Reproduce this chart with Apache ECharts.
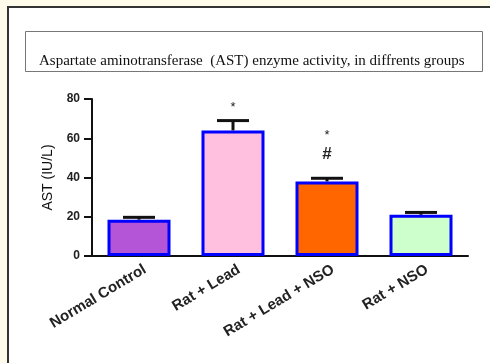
<!DOCTYPE html>
<html><head><meta charset="utf-8">
<script src="https://cdn.jsdelivr.net/npm/echarts@6/dist/echarts.min.js"></script>
<style>html,body{margin:0;padding:0;background:#fffbea;}#c{width:490px;height:363px;}</style>
</head><body><div id="c"></div>
<script>
const categories = ['Normal Control', 'Rat + Lead', 'Rat + Lead + NSO', 'Rat + NSO'];
const values = [18.5, 64, 38, 21];
const errors = [1.2, 5, 1.6, 1.2];
const colors = ['#b355d6', '#ffbfdf', '#ff6600', '#ccffcc'];
const starMarks = ['', '*', '*', ''];
const hashMarks = ['', '', '#', ''];
const yTicks = [0, 20, 40, 60, 80];

const chart = echarts.init(document.getElementById('c'));
chart.setOption({
  backgroundColor: 'transparent',
  animation: false,
  graphic: [
    {type: 'rect', shape: {x: 8, y: 7, width: 500, height: 380}, style: {fill: '#fff', stroke: '#333', lineWidth: 2}, z: -10},
    {type: 'rect', shape: {x: 25.5, y: 31.5, width: 457, height: 40}, style: {fill: '#fff', stroke: '#777', lineWidth: 1}, z: -5}
  ],
  title: {
    text: 'Aspartate aminotransferase  (AST) enzyme activity, in diffrents groups',
    left: 34, top: 49,
    textStyle: {fontFamily: 'Liberation Serif', fontWeight: 'normal', fontSize: 15, color: '#111'}
  },
  grid: {left: 92, right: 22, top: 99, bottom: 107},
  xAxis: {
    type: 'category', data: categories,
    axisLine: {lineStyle: {color: '#111', width: 2}},
    axisTick: {alignWithLabel: true, length: 5, lineStyle: {color: '#111', width: 2}},
    axisLabel: {rotate: 31, fontFamily: 'Liberation Sans', fontWeight: 'bold', fontSize: 15, color: '#222', margin: 16, padding: [0, -7, 0, 0], interval: 0}
  },
  yAxis: {
    type: 'value', min: 0, max: 80, interval: 20,
    name: 'AST (IU/L)', nameLocation: 'middle', nameGap: 37, nameRotate: 90,
    nameTextStyle: {fontFamily: 'Liberation Sans', fontSize: 14, color: '#111'},
    axisLine: {show: true, lineStyle: {color: '#111', width: 2}},
    axisTick: {show: true, length: 8, lineStyle: {color: '#111', width: 2}},
    splitLine: {show: false},
    axisLabel: {fontFamily: 'Liberation Sans', fontWeight: 'bold', fontSize: 12, color: '#222', margin: 12,
      formatter: v => yTicks.includes(v) ? String(v) : ''}
  },
  series: [
    {
      type: 'bar', barWidth: 63,
      data: values.map((v, i) => ({value: v, itemStyle: {color: colors[i]}})),
      itemStyle: {borderColor: '#0000ff', borderWidth: 3},
      z: 2
    },
    {
      type: 'custom', z: 3,
      data: values.map((v, i) => [i, v, errors[i]]),
      renderItem: function (params, api) {
        const i = api.value(0), v = api.value(1), e = api.value(2);
        const base = api.coord([i, v]);
        const top = api.coord([i, v + e]);
        return {type: 'group', children: [
          {type: 'line', shape: {x1: base[0], y1: base[1], x2: top[0], y2: top[1]}, style: {stroke: '#111', lineWidth: 3}},
          {type: 'line', shape: {x1: base[0] - 16, y1: top[1], x2: base[0] + 16, y2: top[1]}, style: {stroke: '#111', lineWidth: 3}}
        ]};
      }
    },
    {
      type: 'custom', z: 4,
      data: values.map((v, i) => [i, v + errors[i]]),
      renderItem: function (params, api) {
        const i = api.value(0);
        const p = api.coord([i, api.value(1)]);
        const kids = [];
        if (starMarks[i]) {
          const dy = hashMarks[i] ? 43 : 13;
          kids.push({type: 'text', style: {text: starMarks[i], x: p[0], y: p[1] - dy, textAlign: 'center', textVerticalAlign: 'middle', fontSize: 13, fontFamily: 'Liberation Sans', fill: '#222'}});
        }
        if (hashMarks[i]) {
          kids.push({type: 'text', style: {text: hashMarks[i], x: p[0], y: p[1] - 24, textAlign: 'center', textVerticalAlign: 'middle', fontSize: 17, fontWeight: 'bold', fontFamily: 'Liberation Sans', fill: '#222'}});
        }
        return {type: 'group', children: kids};
      }
    }
  ]
});
</script></body></html>
